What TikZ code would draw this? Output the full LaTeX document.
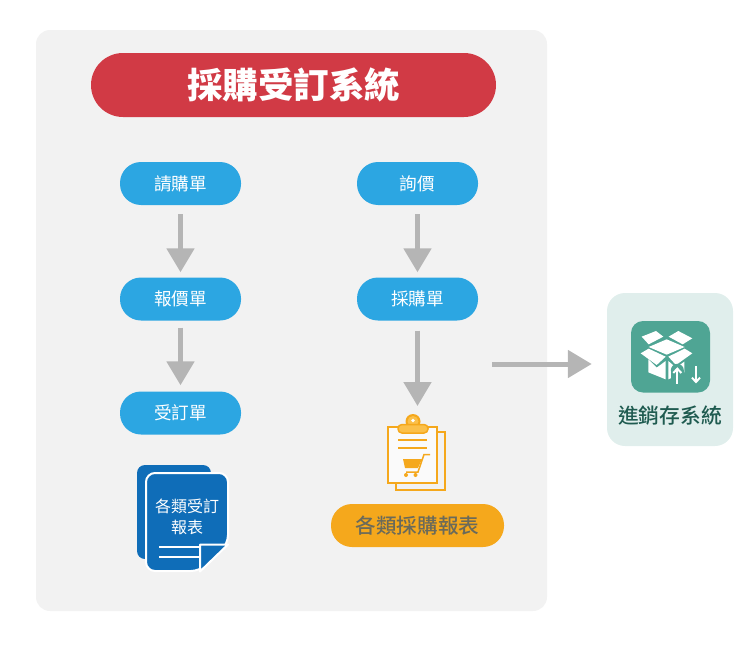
\documentclass[tikz,border=0pt]{standalone}
\usepackage{fontspec}
\setmainfont{Noto Sans CJK TC}
\newfontfamily\medcjk{Noto Sans CJK TC Medium}
\usetikzlibrary{arrows.meta}
\definecolor{panel}{HTML}{F2F2F2}
\definecolor{titlered}{HTML}{D13A45}
\definecolor{pillblue}{HTML}{2CA6E2}
\definecolor{arrowgray}{HTML}{B5B5B5}
\definecolor{docblue}{HTML}{0F6DB8}
\definecolor{amber}{HTML}{F5A81C}
\definecolor{clipamber}{HTML}{FBC04A}
\definecolor{sidepanel}{HTML}{E0EEEC}
\definecolor{teal}{HTML}{4FA594}
\definecolor{darkteal}{HTML}{1F5B50}
\definecolor{orangetext}{HTML}{6A6A5A}
\tikzset{
  panelbox/.style={fill=panel,rounded corners=14pt,minimum width=511pt,minimum height=581pt,inner sep=0pt},
  titlepill/.style={fill=titlered,rounded corners=32pt,minimum width=405pt,minimum height=64pt,inner sep=0pt,text=white,font=\fontsize{35.5pt}{38pt}\selectfont\bfseries},
  pill/.style={fill=pillblue,rounded corners=21pt,minimum width=121pt,minimum height=43pt,inner sep=0pt,text=white,font=\fontsize{17.6pt}{20pt}\selectfont},
  reportpill/.style={fill=amber,rounded corners=21pt,minimum width=173pt,minimum height=43pt,inner sep=0pt,text=orangetext,font=\fontsize{20.6pt}{24pt}\medcjk},
  sidebox/.style={fill=sidepanel,rounded corners=18pt,minimum width=126pt,minimum height=153pt,inner sep=0pt},
  flow/.style={draw=arrowgray,line width=5pt,-{Triangle[length=24pt,width=27pt]}},
  icon/.style={inner sep=0pt,minimum size=1pt},
}
\begin{document}
\begin{tikzpicture}[x=1pt,y=-1pt]
\useasboundingbox (0,0) rectangle (750,645);
\node[panelbox] (main) at (291.5,320.5) {};
\node[titlepill] (title) at (293.5,85) {\raisebox{-1pt}{採購受訂系統}};
\node[pill] (a1) at (180.5,183.5) {\raisebox{-1.3pt}{請購單}};
\node[pill] (a2) at (180.5,299) {\raisebox{-1.3pt}{報價單}};
\node[pill] (a3) at (180.5,413) {\raisebox{-1.3pt}{受訂單}};
\node[pill] (b1) at (417.5,183.5) {\raisebox{-1.3pt}{詢價}};
\node[pill] (b2) at (417.5,299) {\raisebox{-1.3pt}{採購單}};
\node[reportpill] (report) at (417.5,525.5) {各類採購報表};
\node[sidebox] (side) at (670,369.5) {};
\coordinate (clipTop) at (417.5,413);
\coordinate (gout) at (492,364);
\draw[flow,shorten <=9pt,shorten >=5pt] (a1) -- (a2);
\draw[flow,shorten <=7pt,shorten >=6pt] (a2) -- (a3);
\draw[flow,shorten <=9pt,shorten >=5pt] (b1) -- (b2);
\draw[flow,shorten <=10pt,shorten >=7pt] (b2) -- (clipTop);
\draw[flow,shorten >=15pt] (gout) -- (side.west |- gout);
% blue report icon
\fill[docblue,rounded corners=8pt] (137,465) rectangle (211,559);
\draw[white,line width=2pt,fill=docblue,rounded corners=9pt] (146,473) -- (146,571) -- (200,571) -- (228,544) -- (228,473) -- cycle;
\draw[white,line width=2pt] (159,546.5) -- (200,546.5) (159,556.5) -- (200,556.5);
\draw[white,line width=2pt,fill=docblue,line join=round] (200,544.5) -- (228,544.5) -- (200,571.5) -- cycle;
\node[icon,text=white,align=center,font=\fontsize{16pt}{21pt}\selectfont] (doclabel) at (187,516.5) {各類受訂\\報表};
% clipboard icon
\draw[amber,line width=2.4pt,fill=panel] (396,432) rectangle (445,490);
\draw[amber,line width=2.4pt,fill=white!60!panel] (388,427) rectangle (437,483);
\fill[amber] (413,421.5) circle (7.5pt);
\fill[clipamber] (413,421.5) circle (5.5pt);
\fill[white] (413,420.5) circle (1.8pt);
\draw[amber,line width=1.5pt,fill=clipamber,rounded corners=4pt] (398,424.5) rectangle (428,433);
\draw[amber,line width=2pt] (398,439.5) -- (427,439.5) (398,448) -- (427,448);
\fill[amber] (403,459) -- (422,459) -- (418,468) -- (405,468) -- cycle;
\draw[amber,line width=1.5pt] (430,454.5) -- (424,454.5) -- (418,472) -- (406,472);
\fill[amber] (406,475) circle (2pt) (415.5,475) circle (2pt);
% side icon
\fill[teal,rounded corners=12pt] (631,321) rectangle (710,392.5);
\begin{scope}[shift={(600,285)},x=0.3333pt,y=-0.3333pt]
\fill[white] (125,155) -- (168,138) -- (190,155) -- (146,178) -- cycle;
\fill[white] (206,155) -- (235,138) -- (277,160) -- (248,178) -- cycle;
\fill[white] (146,186) -- (200,163) -- (254,186) -- (200,209) -- cycle;
\fill[white] (122,205) -- (146,191) -- (197,215) -- (170,240) -- cycle;
\fill[white] (205,215) -- (254,191) -- (277,205) -- (228,240) -- cycle;
\fill[white] (145,223) -- (170,248) -- (197,228) -- (197,283) -- (145,262) -- cycle;
\fill[white] (205,228) -- (228,248) -- (253,230) -- (253,262) -- (205,283) -- cycle;
\fill[teal] (232,256) circle (6.5pt);
\fill[teal] (212,256) rectangle (252,296);
\draw[white,line width=2pt] (232,296) -- (232,252);
\draw[white,line width=2pt] (220,264) -- (232,251) -- (244,264);
\draw[white,line width=2pt] (288,290) -- (288,242);
\draw[white,line width=2pt] (276,278) -- (288,291) -- (300,278);
\end{scope}
\node[icon,text=darkteal,font=\fontsize{20.8pt}{24pt}\medcjk] (sidelabel) at (670,415.5) {進銷存系統};
\end{tikzpicture}
\end{document}
